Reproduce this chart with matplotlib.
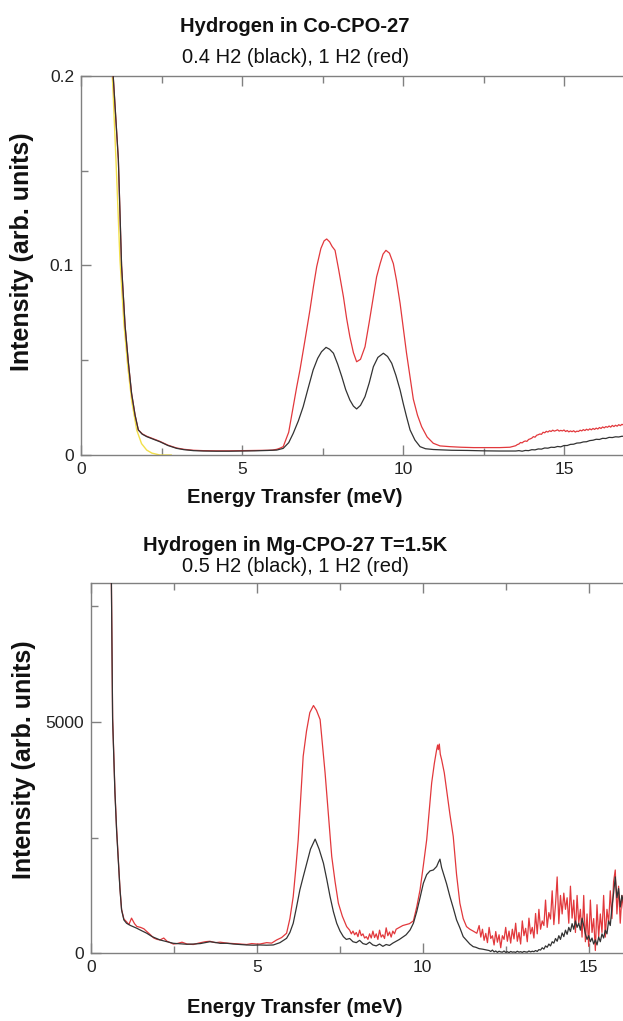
import numpy as np
import matplotlib
matplotlib.use("Agg")
import matplotlib.pyplot as plt
from matplotlib.ticker import MultipleLocator, FuncFormatter

plt.rcParams['font.family'] = ['Liberation Sans', 'DejaVu Sans']

# ---------------- Top panel: Co-CPO-27 ----------------
co_black_x = [0.95, 1.0, 1.08, 1.16, 1.26, 1.37, 1.47, 1.57, 1.68, 1.78, 1.9, 2.04, 2.25, 2.45, 2.7,
              2.97, 3.2, 3.49, 3.8, 4.2, 4.6, 5.0, 5.4, 5.8, 6.08, 6.28, 6.45, 6.59, 6.75, 6.9, 7.05,
              7.21, 7.35, 7.47, 7.61, 7.72, 7.84, 7.97, 8.1, 8.22, 8.35, 8.46, 8.56, 8.68, 8.82, 8.95,
              9.08, 9.22, 9.39, 9.52, 9.65, 9.78, 9.91, 10.01, 10.11, 10.22, 10.37, 10.53, 10.7,
              10.94, 11.2, 11.5, 12.0, 12.5, 13.0, 13.4,
              13.5, 13.6, 13.7, 13.8, 13.9, 14.0, 14.1, 14.2, 14.3, 14.4, 14.5, 14.6, 14.7, 14.8,
              14.9, 15.0, 15.1, 15.2, 15.3, 15.4, 15.5, 15.6, 15.7, 15.8, 15.9, 16.0, 16.1, 16.2,
              16.3, 16.4, 16.5, 16.6, 16.7, 16.8, 16.9]
co_black_y = [0.215, 0.2, 0.178, 0.156, 0.1, 0.068, 0.049, 0.0326, 0.021, 0.0132, 0.011, 0.0097,
              0.0083, 0.007, 0.005, 0.0035, 0.0028, 0.0023, 0.0021, 0.002, 0.002, 0.0021, 0.0022,
              0.0024, 0.0026, 0.0035, 0.0065, 0.0114, 0.018, 0.0255, 0.035, 0.0449, 0.051, 0.0545,
              0.0568, 0.0558, 0.0537, 0.048, 0.0413, 0.0345, 0.029, 0.0258, 0.0243, 0.0262, 0.0308,
              0.038, 0.0466, 0.0515, 0.0537, 0.052, 0.0484, 0.042, 0.0343, 0.027, 0.0202, 0.0132,
              0.0079, 0.0044, 0.0033, 0.0029, 0.0027, 0.0025, 0.0024, 0.0022, 0.0021, 0.0021,
              0.0021, 0.0023, 0.0020, 0.0024, 0.0023, 0.0028, 0.0027, 0.0032, 0.0031, 0.0037,
              0.0036, 0.0041, 0.0040, 0.0045, 0.0043, 0.0050, 0.0050, 0.0056, 0.0057, 0.0063,
              0.0064, 0.0069, 0.0070, 0.0076, 0.0078, 0.0083, 0.0082, 0.0088, 0.0087, 0.0093,
              0.0092, 0.0096, 0.0095, 0.0099, 0.0098]

co_red_x = [0.95, 1.0, 1.08, 1.16, 1.26, 1.37, 1.47, 1.57, 1.68, 1.78, 1.9, 2.04, 2.25, 2.45, 2.7,
            2.97, 3.2, 3.49, 3.8, 4.2, 4.6, 5.0, 5.4, 5.8, 5.95, 6.08, 6.18, 6.28, 6.45, 6.59, 6.7,
            6.8, 6.95, 7.11, 7.22, 7.32, 7.45, 7.55, 7.63, 7.72, 7.8, 7.89, 8.0, 8.15, 8.25, 8.35,
            8.46, 8.56, 8.68, 8.82, 8.95, 9.08, 9.18, 9.29, 9.38, 9.47, 9.58, 9.7, 9.8, 9.91,
            10.01, 10.11, 10.22, 10.32, 10.45, 10.58, 10.75, 10.94, 11.15, 11.46, 11.8, 12.2,
            12.6, 13.0, 13.32,
            13.50, 13.55, 13.60, 13.65, 13.70, 13.75, 13.80, 13.85, 13.90, 13.95, 14.00, 14.05,
            14.10, 14.15, 14.20, 14.25, 14.30, 14.35, 14.40, 14.45, 14.50, 14.55, 14.60, 14.65,
            14.70, 14.75, 14.80, 14.85, 14.90, 14.95, 15.00, 15.05, 15.10, 15.15, 15.20, 15.25,
            15.30, 15.35, 15.40, 15.45, 15.50, 15.55, 15.60, 15.65, 15.70, 15.75, 15.80, 15.85,
            15.90, 15.95, 16.00, 16.05, 16.10, 16.15, 16.20, 16.25, 16.30, 16.35, 16.40, 16.45,
            16.50, 16.55, 16.60, 16.65, 16.70, 16.75, 16.80, 16.85, 16.90]
co_red_y = [0.215, 0.2, 0.178, 0.156, 0.1, 0.068, 0.049, 0.0326, 0.021, 0.0133, 0.0112, 0.0099,
            0.0085, 0.0072, 0.0052, 0.0037, 0.003, 0.0025, 0.0023, 0.0022, 0.0022, 0.0023, 0.0024,
            0.0025, 0.0026, 0.003, 0.0036, 0.0044, 0.012, 0.0255, 0.036, 0.0449, 0.06, 0.0765,
            0.089, 0.0994, 0.109, 0.113, 0.114, 0.1125, 0.11, 0.108, 0.098, 0.0835, 0.072, 0.0624,
            0.054, 0.0492, 0.0505, 0.0571, 0.07, 0.0835, 0.094, 0.101, 0.106, 0.108, 0.1065,
            0.101, 0.092, 0.08, 0.067, 0.0537, 0.041, 0.0295, 0.021, 0.0149, 0.0095, 0.0062,
            0.0048, 0.0044, 0.0041, 0.0039, 0.0039, 0.0039, 0.0041,
            0.0049, 0.0055, 0.0058, 0.0066, 0.0064, 0.0071, 0.0074, 0.0072, 0.0082, 0.0085,
            0.0089, 0.0097, 0.0094, 0.0104, 0.0107, 0.0111, 0.0109, 0.0120, 0.0117, 0.0125,
            0.0121, 0.0128, 0.0124, 0.0131, 0.0126, 0.0129, 0.0133, 0.0126, 0.0130, 0.0127,
            0.0132, 0.0124, 0.0129, 0.0122, 0.0127, 0.0123, 0.0128, 0.0121, 0.0126, 0.0124,
            0.0131, 0.0127, 0.0134, 0.0129, 0.0136, 0.0131, 0.0138, 0.0133, 0.0140, 0.0135,
            0.0142, 0.0137, 0.0145, 0.0140, 0.0148, 0.0143, 0.0150, 0.0146, 0.0153, 0.0147,
            0.0156, 0.0150, 0.0157, 0.0152, 0.0160, 0.0155, 0.0162, 0.0158, 0.0160]

co_fit_x = [0.93, 1.0, 1.1, 1.21, 1.33, 1.45, 1.58, 1.73, 1.88, 2.04, 2.2, 2.45, 2.8]
co_fit_y = [0.215, 0.19, 0.15, 0.103, 0.07, 0.047, 0.028, 0.0132, 0.006, 0.0026, 0.001, 0.0, 0.0]

# ---------------- Bottom panel: Mg-CPO-27 ----------------
mg_black_x = [0.62, 0.66, 0.70, 0.73, 0.78, 0.83, 0.88, 0.93, 1.0, 1.08, 1.2, 1.39, 1.5, 1.69, 1.85,
              2.09, 2.3, 2.49, 2.7, 2.9, 3.09, 3.3, 3.45, 3.59, 3.75, 3.9, 4.1, 4.3, 4.5, 4.7, 4.9,
              5.1, 5.3, 5.5, 5.7, 5.9, 6.0, 6.1, 6.2, 6.3, 6.4, 6.51, 6.62, 6.76, 6.88, 7.01, 7.11,
              7.21, 7.31, 7.41, 7.51, 7.61, 7.7, 7.8, 7.9, 8.0, 8.1, 8.2, 8.3, 8.4, 8.5, 8.6, 8.7,
              8.8, 8.9, 9.0, 9.1, 9.2, 9.3, 9.4, 9.5, 9.62, 9.72, 9.82, 9.92, 10.02, 10.12, 10.22,
              10.32, 10.42, 10.47, 10.52, 10.57, 10.62, 10.72, 10.82, 10.92, 11.02, 11.12, 11.22,
              11.32, 11.42, 11.52, 11.6, 11.7, 11.8, 11.93,
              12.0, 12.05, 12.1, 12.15, 12.2, 12.25, 12.3, 12.35, 12.4, 12.45, 12.5, 12.55, 12.6,
              12.65, 12.7, 12.75, 12.8, 12.85, 12.9, 12.95, 13.0, 13.05, 13.1, 13.15, 13.2, 13.25,
              13.3, 13.35, 13.4, 13.45, 13.5, 13.55, 13.6, 13.65, 13.7, 13.75, 13.8, 13.85, 13.9,
              13.95, 14.0, 14.05, 14.1, 14.15, 14.2, 14.25, 14.3, 14.35, 14.4, 14.45, 14.5, 14.55,
              14.6, 14.65, 14.7, 14.75, 14.8, 14.85, 14.9, 14.95, 15.0, 15.05, 15.1, 15.15, 15.2,
              15.25, 15.3, 15.35, 15.4, 15.45, 15.5, 15.55, 15.6, 15.65, 15.7, 15.75, 15.8, 15.85,
              15.9, 15.95, 16.0, 16.05]
mg_black_y = [8300, 5050, 4100, 3463, 2650, 2020, 1400, 937, 720, 649, 600, 541, 500, 433, 360,
              288, 250, 216, 205, 195, 200, 210, 230, 250, 235, 215, 216, 200, 190, 180, 175,
              180, 175, 180, 230, 324, 450, 649, 1000, 1370, 1650, 1948, 2250, 2467, 2250, 1948,
              1600, 1225, 900, 649, 480, 360, 300, 320, 250, 230, 280, 210, 190, 240, 180, 160,
              200, 150, 190, 170, 220, 260, 300, 350, 400, 504, 650, 900, 1200, 1515, 1700, 1780,
              1800, 1875, 1960, 2034, 1850, 1732, 1500, 1225, 980, 721, 550, 360, 280, 200, 144,
              130, 100, 90, 72,
              60, 40, 70, 30, 50, 20, 45, 30, 25, 50, 20, 35, 15, 40, 25, 30, 20, 45, 25, 35, 20,
              40, 30, 25, 50, 30, 45, 35, 60, 40, 80, 70, 120, 90, 160, 130, 200, 160, 250, 220,
              320, 260, 380, 300, 440, 360, 500, 410, 560, 470, 640, 520, 700, 560, 650, 500, 760,
              600, 420, 300, 380, 250, 330, 200, 290, 180, 350, 250, 420, 330, 500, 420, 700, 600,
              1000, 1300, 1650, 1200, 1400, 1000, 1250, 1100]

mg_red_x = [0.62, 0.66, 0.70, 0.73, 0.78, 0.83, 0.88, 0.93, 1.0, 1.08, 1.15, 1.23, 1.32, 1.39, 1.5,
            1.6, 1.69, 1.8, 1.9, 2.0, 2.09, 2.2, 2.3, 2.49, 2.6, 2.75, 2.9, 3.09, 3.25, 3.45, 3.59,
            3.75, 3.9, 4.1, 4.3, 4.5, 4.7, 4.85, 5.0, 5.1, 5.3, 5.45, 5.6, 5.75, 5.9, 6.0, 6.1,
            6.18, 6.25, 6.32, 6.4, 6.5, 6.6, 6.71, 6.8, 6.91, 6.98, 7.06, 7.16, 7.26, 7.36, 7.46,
            7.58, 7.71, 7.8, 7.85, 7.9, 7.95, 8.0, 8.05, 8.1, 8.15, 8.2, 8.25, 8.3, 8.35, 8.4,
            8.45, 8.5, 8.55, 8.6, 8.65, 8.7, 8.75, 8.8, 8.85, 8.9, 8.95, 9.0, 9.05, 9.1, 9.15,
            9.2, 9.3, 9.4, 9.5, 9.6, 9.72, 9.82, 9.92, 10.02, 10.12, 10.2, 10.27, 10.35, 10.42,
            10.45, 10.47, 10.5, 10.53, 10.57, 10.65, 10.72, 10.82, 10.92, 11.02, 11.12, 11.22,
            11.32, 11.42, 11.52, 11.63,
            11.70, 11.75, 11.8, 11.85, 11.9, 11.95, 12.0, 12.05, 12.1, 12.15, 12.2, 12.25, 12.3,
            12.35, 12.4, 12.45, 12.5, 12.55, 12.6, 12.65, 12.7, 12.75, 12.8, 12.85, 12.9, 12.95,
            13.0, 13.05, 13.1, 13.15, 13.2, 13.25, 13.3, 13.35, 13.4, 13.45, 13.5, 13.55, 13.6,
            13.65, 13.7, 13.75, 13.8, 13.85, 13.9, 13.95, 14.0, 14.05, 14.1, 14.15, 14.2, 14.25,
            14.3, 14.35, 14.4, 14.45, 14.5, 14.55, 14.6, 14.65, 14.7, 14.75, 14.8, 14.85, 14.9,
            14.95, 15.0, 15.05, 15.1, 15.15, 15.2, 15.25, 15.3, 15.35, 15.4, 15.45, 15.5, 15.55,
            15.6, 15.65, 15.7, 15.75, 15.8, 15.85, 15.9, 15.95, 16.0, 16.05]
mg_red_y = [8300, 5100, 4150, 3500, 2700, 2050, 1420, 950, 740, 680, 620, 760, 640, 580, 560,
            530, 470, 400, 330, 300, 290, 330, 260, 200, 210, 240, 200, 190, 220, 250, 260,
            230, 240, 220, 210, 200, 190, 210, 200, 201, 230, 220, 288, 340, 433, 750, 1225,
            1850, 2452, 3300, 4256, 4800, 5200, 5353, 5250, 5050, 4500, 3896, 3000, 2092, 1550,
            1082, 800, 576, 500, 420, 480, 400, 450, 360, 500, 380, 420, 330, 360, 300, 420, 330,
            480, 340, 420, 300, 500, 350, 400, 320, 550, 380, 460, 350, 480, 420, 520, 560, 600,
            620, 640, 700, 1000, 1370, 1900, 2452, 3100, 3680, 4100, 4400, 4500, 4400, 4520,
            4300, 4184, 3900, 3535, 3000, 2524, 1700, 1082, 750, 576, 520, 480, 433,
            600, 350, 520, 280, 430, 230, 560, 320, 380, 180,
            470, 240, 400, 120, 380, 300, 560, 260, 480, 220,
            520, 310, 650, 260, 450, 200, 700, 380, 540, 250,
            760, 420, 560, 330, 860, 420, 950, 520, 700, 600,
            1150, 560, 880, 740, 1350, 620, 1050, 1650, 640, 1250,
            850, 1300, 950, 1200, 650, 1450, 760, 1150, 450, 1250,
            650, 950, 350, 1250, 250, 850, 150, 1150, 450, 750,
            60, 1050, 350, 850, 450, 1250, 350, 950, 650, 1350,
            750, 1550, 1800, 850, 1450, 650, 1250, 950]

x_major = 5
x_minor = 2.5

BLACK = '#333333'
RED = '#e2383c'
YELLOW = '#f2e04a'
SPINE = '#808080'

W, H = 623, 1021
fig = plt.figure(figsize=(W / 100, H / 100), dpi=100)


def fx(px):
    return px / W


def fy(py):
    return 1 - py / H


def style_axes(ax):
    for s in ['top', 'bottom', 'left']:
        ax.spines[s].set_color(SPINE)
        ax.spines[s].set_linewidth(1.0)
    ax.spines['right'].set_visible(False)
    ax.xaxis.set_major_locator(MultipleLocator(x_major))
    ax.xaxis.set_minor_locator(MultipleLocator(x_minor))
    ax.tick_params(which='both', direction='in', top=True, right=False, color=SPINE,
                   labelsize=12.5, labelcolor='#222222', width=1.0)
    ax.tick_params(which='major', length=7, pad=5)
    ax.tick_params(which='minor', length=5)


# top axes
ax1 = fig.add_axes([fx(81), fy(455), 1 - fx(81), (455 - 76) / H])
ax1.plot(co_fit_x, co_fit_y, color=YELLOW, lw=1.0, zorder=2)
ax1.plot(co_red_x, co_red_y, color=RED, lw=0.9, zorder=3)
ax1.plot(co_black_x, co_black_y, color=BLACK, lw=0.9, zorder=4)
ax1.set_xlim(0, (623 - 81) / 32.2)
ax1.set_ylim(0, 0.2)
style_axes(ax1)
ax1.yaxis.set_major_locator(MultipleLocator(0.1))
ax1.yaxis.set_minor_locator(MultipleLocator(0.05))
ax1.yaxis.set_major_formatter(FuncFormatter(lambda v, p: '0' if abs(v) < 1e-9 else f'{v:.1f}'))

# bottom axes
ax2 = fig.add_axes([fx(90.7), fy(953.3), 1 - fx(90.7), (953.3 - 583) / H])
ax2.plot(mg_red_x, mg_red_y, color=RED, lw=0.9, zorder=3)
ax2.plot(mg_black_x, mg_black_y, color=BLACK, lw=0.9, zorder=4)
ax2.set_xlim(0, (623 - 90.7) / 33.2)
ax2.set_ylim(0, 8000)
style_axes(ax2)
ax2.yaxis.set_major_locator(MultipleLocator(5000))
ax2.yaxis.set_minor_locator(MultipleLocator(2500))

# texts
cx = fx(295)
fig.text(cx, fy(32), 'Hydrogen in Co-CPO-27', ha='center', va='baseline', fontsize=14.5,
         fontweight='bold', color='#111111')
fig.text(cx, fy(63), '0.4 H2 (black), 1 H2 (red)', ha='center', va='baseline', fontsize=14.5,
         color='#111111')
fig.text(cx, fy(503), 'Energy Transfer (meV)', ha='center', va='baseline', fontsize=14.5,
         fontweight='bold', color='#111111')
fig.text(cx, fy(551), 'Hydrogen in Mg-CPO-27 T=1.5K', ha='center', va='baseline', fontsize=14.5,
         fontweight='bold', color='#111111')
fig.text(cx, fy(572), '0.5 H2 (black), 1 H2 (red)', ha='center', va='baseline', fontsize=14.5,
         color='#111111')
fig.text(cx, fy(1013), 'Energy Transfer (meV)', ha='center', va='baseline', fontsize=14.5,
         fontweight='bold', color='#111111')
fig.text(fx(22), fy(252), 'Intensity (arb. units)', ha='center', va='center', rotation=90,
         fontsize=18, fontweight='bold', color='#111111')
fig.text(fx(24), fy(760), 'Intensity (arb. units)', ha='center', va='center', rotation=90,
         fontsize=18, fontweight='bold', color='#111111')

fig.savefig('out.png', dpi=100)
